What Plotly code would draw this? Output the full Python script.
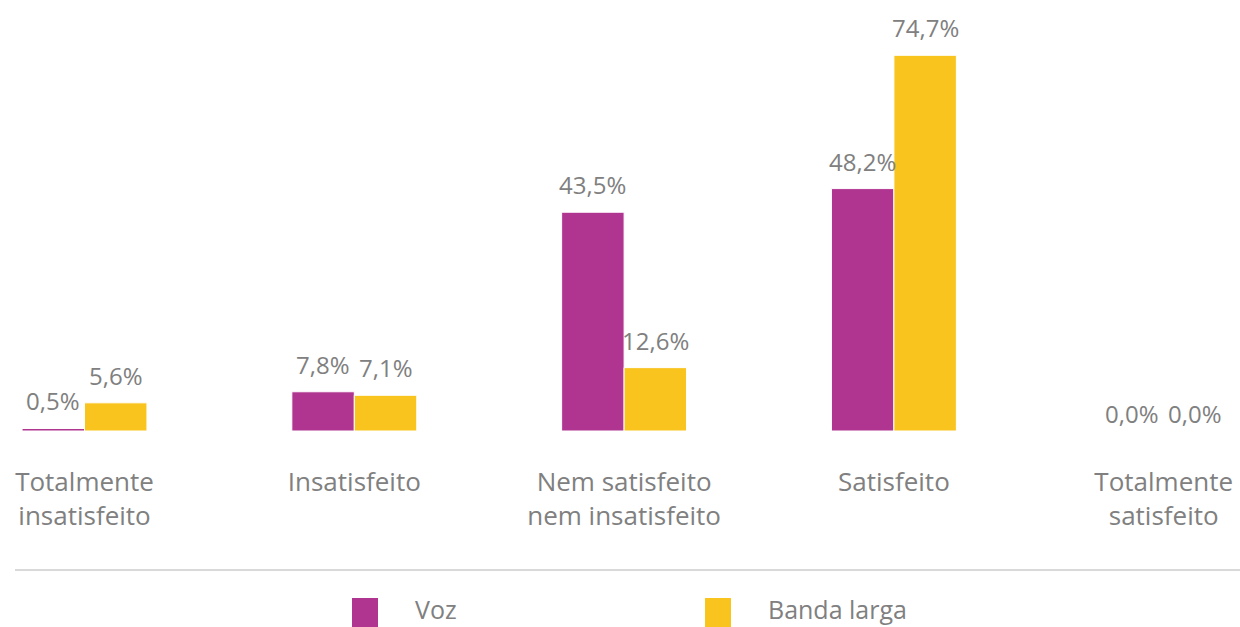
import plotly.graph_objects as go

categories = ["Totalmente<br>insatisfeito", "Insatisfeito", "Nem satisfeito<br>nem insatisfeito", "Satisfeito", "Totalmente<br>satisfeito"]
voz = [0.5, 7.8, 43.5, 48.2, 0.0]
banda_larga = [5.6, 7.1, 12.6, 74.7, 0.0]
series_names = ["Voz", "Banda larga"]
colors = ["#B03590", "#F9C41E"]
text_color = "#808080"
FONT = "Open Sans"

x_idx = list(range(len(categories)))
BARGAP = 0.537
half = (1 - BARGAP) / 4  # offset of each bar centre from category centre

def fmt(v):
    return f"{v:.1f}".replace(".", ",") + "%"

W, H = 1240, 627
BASE = 431  # baseline from top, px

fig = go.Figure()
for k, (name, vals, col) in enumerate(zip(series_names, [voz, banda_larga], colors)):
    fig.add_trace(go.Bar(
        x=x_idx, y=vals, name=name,
        marker=dict(color=col, line=dict(color="white", width=1)),
        showlegend=False, hoverinfo="y",
    ))
    sign = -1 if k == 0 else 1
    for xi, v in zip(x_idx, vals):
        fig.add_annotation(
            x=xi + sign * half, y=v, xref="x", yref="y",
            text=fmt(v), showarrow=False, yanchor="bottom", xanchor="center",
            yshift=9 if v > 0 else -1,
            font=dict(family=FONT, size=24, color=text_color),
        )

fig.update_layout(
    width=W, height=H,
    margin=dict(l=0, r=0, t=0, b=H - BASE),
    paper_bgcolor="white", plot_bgcolor="white",
    barmode="group", bargap=BARGAP, bargroupgap=0,
    xaxis=dict(
        tickmode="array", tickvals=x_idx, ticktext=categories,
        range=[-0.3132, 4.2828], showgrid=False, zeroline=False, showline=False,
        ticks="", ticklabelstandoff=33,
        tickfont=dict(family=FONT, size=26, color=text_color),
    ),
    yaxis=dict(range=[0, 85.7], visible=False),
    font=dict(family=FONT, color=text_color),
)

def py(y):
    return (BASE - y) / BASE

# separator line above legend
fig.add_shape(type="line", xref="paper", yref="paper",
              x0=15 / W, x1=1.01, y0=py(570), y1=py(570),
              line=dict(color="#D9D9D9", width=2))

# legend
legend_items = [(352, 413), (705, 766)]
for (sx, tx), name, col in zip(legend_items, series_names, colors):
    fig.add_shape(type="rect", xref="paper", yref="paper",
                  x0=sx / W, x1=(sx + 26) / W, y0=py(628), y1=py(598),
                  fillcolor=col, line=dict(width=0))
    fig.add_annotation(xref="paper", yref="paper", x=tx / W, y=py(609),
                       xanchor="left", yanchor="middle", text=name, showarrow=False,
                       font=dict(family=FONT, size=25, color=text_color))

fig.write_html("out.html", config={"displayModeBar": False},
               post_script="document.body.style.margin='0';document.body.style.overflow='hidden';")
